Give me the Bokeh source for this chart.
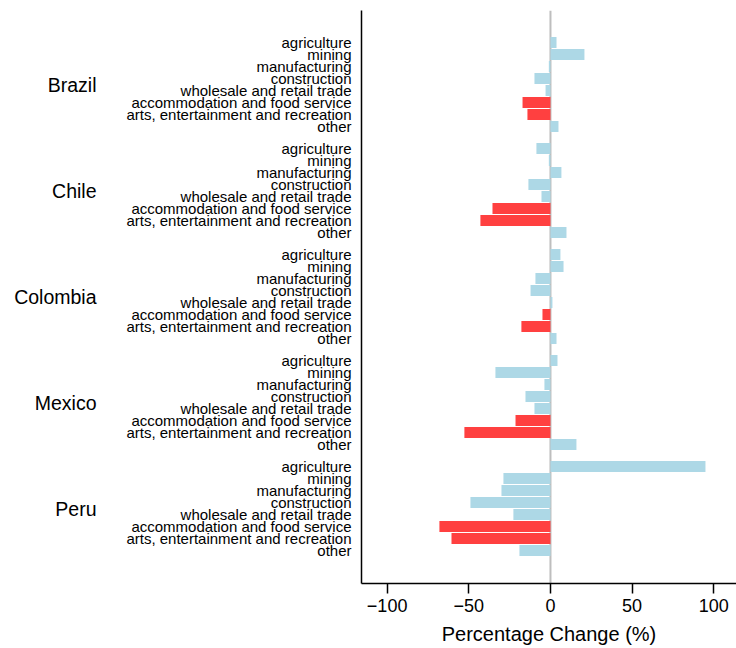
from bokeh.plotting import figure
from bokeh.models import Range1d, LinearAxis, FixedTicker, Span, ColumnDataSource
from bokeh.embed import file_html
from bokeh.resources import INLINE

countries = ["Brazil", "Chile", "Colombia", "Mexico", "Peru"]
sectors = ["agriculture", "mining", "manufacturing", "construction",
           "wholesale and retail trade", "accommodation and food service",
           "arts, entertainment and recreation", "other"]
highlight = ["accommodation and food service", "arts, entertainment and recreation"]

brazil = [3.7, 20.8, -1.0, -9.8, -3.0, -17.1, -14.1, 4.9]
chile = [-8.6, -1.0, 6.7, -13.5, -5.5, -35.5, -42.9, 9.8]
colombia = [6.1, 8.0, -9.2, -12.2, 1.2, -4.9, -17.8, 3.7]
mexico = [4.3, -33.7, -3.7, -15.3, -9.8, -21.4, -52.7, 15.9]
peru = [94.9, -28.8, -30.0, -49.0, -22.7, -68.0, -60.6, -19.0]
series = [brazil, chile, colombia, mexico, peru]

x_ticks = [-100, -50, 0, 50, 100]
x_labels = ["\u2212100", "\u221250", "0", "50", "100"]

ROW = 12
GROUP = 106

ys, vals, cols = [], [], []
sector_overrides = {}
country_ticks, country_overrides = [], {}
for g, (c, vs) in enumerate(zip(countries, series)):
    for j, (s, v) in enumerate(zip(sectors, vs)):
        y = g * GROUP + j * ROW
        ys.append(y)
        vals.append(v)
        cols.append("#FF4040" if s in highlight else "#ADD8E6")
        sector_overrides[y] = s
    cy = g * GROUP + 42
    country_ticks.append(cy)
    country_overrides[cy] = c

src = ColumnDataSource(dict(y=ys, v=vals, c=cols))

FONT = "Liberation Sans"
p = figure(width=736, height=648, output_backend="svg", toolbar_location=None,
           x_range=Range1d(-115.7, 113.9), y_range=Range1d(541, -32),
           min_border_left=361, min_border_right=0, min_border_top=10,
           min_border_bottom=65)
p.outline_line_color = None
p.xgrid.visible = False
p.ygrid.visible = False

p.add_layout(Span(location=0, dimension="height", line_color="#BEBEBE",
                  line_width=2, level="underlay"))
p.hbar(y="y", left=0, right="v", height=11, fill_color="c", line_color=None,
       source=src)

xa = p.xaxis[0]
xa.ticker = FixedTicker(ticks=x_ticks)
xa.major_label_overrides = dict(zip(x_ticks, x_labels))
xa.minor_tick_line_color = None
xa.major_tick_out = 10
xa.major_tick_in = 0
xa.major_tick_line_width = 1.5
xa.axis_line_width = 1.5
xa.axis_line_color = "black"
xa.major_tick_line_color = "black"
xa.major_label_text_font = FONT
xa.major_label_text_font_size = "18px"
xa.major_label_text_color = "black"
xa.major_label_standoff = 5
xa.axis_label = "Percentage Change (%)"
xa.axis_label_text_font = FONT
xa.axis_label_text_font_size = "20px"
xa.axis_label_text_font_style = "normal"
xa.axis_label_text_color = "black"
xa.axis_label_standoff = 8

ya = p.yaxis[0]
ya.ticker = FixedTicker(ticks=ys)
ya.major_label_overrides = sector_overrides
ya.minor_tick_line_color = None
ya.major_tick_line_color = None
ya.major_tick_out = 0
ya.major_tick_in = 0
ya.axis_line_color = "black"
ya.axis_line_width = 1.5
ya.major_label_standoff = 10
ya.major_label_text_font = FONT
ya.major_label_text_font_size = "15px"
ya.major_label_text_color = "black"

ca = LinearAxis(ticker=FixedTicker(ticks=country_ticks),
                major_label_overrides=country_overrides)
ca.axis_line_color = None
ca.major_tick_line_color = None
ca.minor_tick_line_color = None
ca.major_tick_out = 0
ca.major_tick_in = 0
ca.major_label_standoff = 27
ca.major_label_text_font = FONT
ca.major_label_text_font_size = "19.5px"
ca.major_label_text_color = "black"
p.add_layout(ca, "left")

open("out.html", "w").write(file_html(p, INLINE))
